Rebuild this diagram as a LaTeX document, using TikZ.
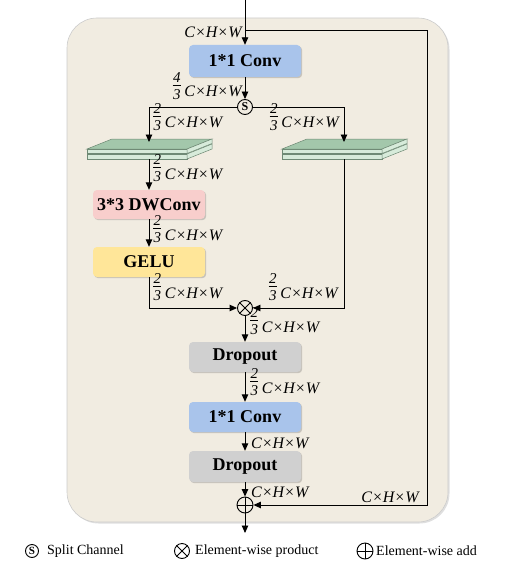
\documentclass[tikz,border=0pt]{standalone}
\usepackage{fontspec}
\setmainfont{Liberation Serif}
\usetikzlibrary{arrows.meta,shadows}
\definecolor{bgc}{HTML}{F1ECE1}
\definecolor{bluec}{HTML}{A9C4EB}
\definecolor{pinkc}{HTML}{F8CECC}
\definecolor{yelc}{HTML}{FFE699}
\definecolor{grayc}{HTML}{D0D0D0}
\definecolor{gtop}{HTML}{A3C7AB}
\definecolor{gfront}{HTML}{D7EBDA}
\definecolor{gedge}{HTML}{6F8A75}
\newcommand\fr[2]{\raisebox{-2pt}{\fontsize{15}{15}\selectfont\itshape\lineskip=1.6pt\shortstack{#1\\\rule{0.55em}{0.6pt}\\#2}}\hspace{3.5pt}}
\newcommand\chw{\textit{C×H×W}}
\tikzset{
 block/.style={rounded corners=4pt, minimum width=112pt, minimum height=30pt, inner sep=0pt,
   font=\fontsize{18}{20}\selectfont\bfseries,
   drop shadow={shadow xshift=1.2pt, shadow yshift=-1.2pt, opacity=0.3, fill=black!60}},
 lbl/.style={inner sep=0pt, font=\fontsize{16}{18}\selectfont},
 leg/.style={inner sep=0pt, font=\fontsize{14}{16}\selectfont, anchor=west},
 arr/.style={-{Triangle[length=7.5pt,width=6.5pt]}, line width=0.9pt},
 ln/.style={line width=0.9pt},
 op/.style={circle, draw, line width=0.9pt, minimum size=15pt, inner sep=0pt},
 slab/.style={draw=gedge, line width=0.5pt},
}
\newcommand\slabs[1]{%
 \begin{scope}[shift={(#1,0)}]
 \filldraw[slab, fill=gfront] (0,154) rectangle (100,159);
 \filldraw[slab, fill=gfront] (100,154) -- (125,144) -- (125,149) -- (100,159) -- cycle;
 \filldraw[slab, fill=gtop] (0,149) -- (25,139) -- (125,139) -- (100,149) -- cycle;
 \filldraw[slab, fill=gfront] (0,149) rectangle (100,153.5);
 \filldraw[slab, fill=gfront] (100,149) -- (125,139) -- (125,143.5) -- (100,153.5) -- cycle;
 \end{scope}}
\begin{document}
\begin{tikzpicture}[x=1pt, y=-1pt]
\useasboundingbox (0,0) rectangle (509,575);
% background panel
\filldraw[fill=bgc, draw=black!20, line width=0.6pt, rounded corners=30pt,
  drop shadow={shadow xshift=1.5pt, shadow yshift=-1.5pt, opacity=0.25, fill=black!50}]
  (67,18) rectangle (448,522);
% stacks
\slabs{87}
\slabs{282}
\coordinate (sLt) at (149,142);
\coordinate (sLb) at (149,159);
\coordinate (sRt) at (344,142);
\coordinate (sRb) at (344,159);
% blocks
\node[block, fill=bluec, minimum height=32pt] (c1) at (245,61) {1*1 Conv};
\node[op, font=\fontsize{12}{12}\selectfont\bfseries] (s) at (245,107) {S};
\node[block, fill=pinkc, minimum height=29pt] (dw) at (149,204.5) {3*3 DWConv};
\node[block, fill=yelc] (ge) at (149,262) {GELU};
\node[op] (mul) at (245,308) {};
\draw[ln] (mul.north west) -- (mul.south east) (mul.north east) -- (mul.south west);
\node[block, fill=grayc] (d1) at (245,357) {Dropout};
\node[block, fill=bluec] (c2) at (245,417) {1*1 Conv};
\node[block, fill=grayc, minimum height=31pt] (d2) at (245,466.5) {Dropout};
\node[op, minimum size=16pt] (add) at (245,505) {};
\draw[ln] (add.north) -- (add.south) (add.west) -- (add.east);
\coordinate (in) at (245,0);
\coordinate (sk) at (245,30);
\coordinate (skc) at (427,30);
\coordinate (out) at (245,533);
% connectors
\draw[arr] (in) -- (c1.north);
\draw[arr] (sk) -- (skc) |- (add.east);
\draw[arr] (c1.south) -- (s.north);
\draw[arr] (s.west) -| (sLt);
\draw[arr] (s.east) -| (sRt);
\draw[arr] (sLb) -- (dw.north);
\draw[arr] (dw.south) -- (ge.north);
\draw[arr] (ge.south) |- (mul.west);
\draw[arr] (sRb) |- (mul.east);
\draw[arr] (mul.south) -- (d1.north);
\draw[arr] (d1.south) -- (c2.north);
\draw[arr] (c2.south) -- (d2.north);
\draw[arr] (d2.south) -- (add.north);
\draw[arr] (add.south) -- (out);
% labels
\node[lbl, anchor=base east] (l1) at (243,38) {\chw};
\node[lbl, anchor=base east] (l2) at (243,97) {\fr{4}{3}\chw};
\node[lbl, anchor=base west] (l3) at (153,128) {\fr{2}{3}\chw};
\node[lbl, anchor=base east] (l4) at (340,128) {\fr{2}{3}\chw};
\node[lbl, anchor=base west] (l5) at (153,179) {\fr{2}{3}\chw};
\node[lbl, anchor=base west] (l6) at (153,240) {\fr{2}{3}\chw};
\node[lbl, anchor=base west] (l7) at (153,298) {\fr{2}{3}\chw};
\node[lbl, anchor=base east] (l8) at (339,298) {\fr{2}{3}\chw};
\node[lbl, anchor=base west] (l9) at (250,332) {\fr{2}{3}\chw};
\node[lbl, anchor=base west] (l10) at (250,393) {\fr{2}{3}\chw};
\node[lbl, anchor=base west] (l11) at (251,448) {\chw};
\node[lbl, anchor=base west] (l12) at (251,497) {\chw};
\node[lbl, anchor=base east] (l13) at (420,502) {\chw};
% legend
\node[op, minimum size=13pt, font=\fontsize{11}{11}\selectfont\bfseries] (ls) at (32,551) {S};
\node[leg] (lst) at (47,551) {Split Channel};
\node[op] (lm) at (182,551) {};
\draw[ln] (lm.north west) -- (lm.south east) (lm.north east) -- (lm.south west);
\node[leg] (lmt) at (195,551) {Element-wise product};
\node[op, minimum size=16pt] (la) at (365,551) {};
\draw[ln] (la.north) -- (la.south) (la.west) -- (la.east);
\node[leg] (lat) at (376,551) {Element-wise add};
\end{tikzpicture}
\end{document}
